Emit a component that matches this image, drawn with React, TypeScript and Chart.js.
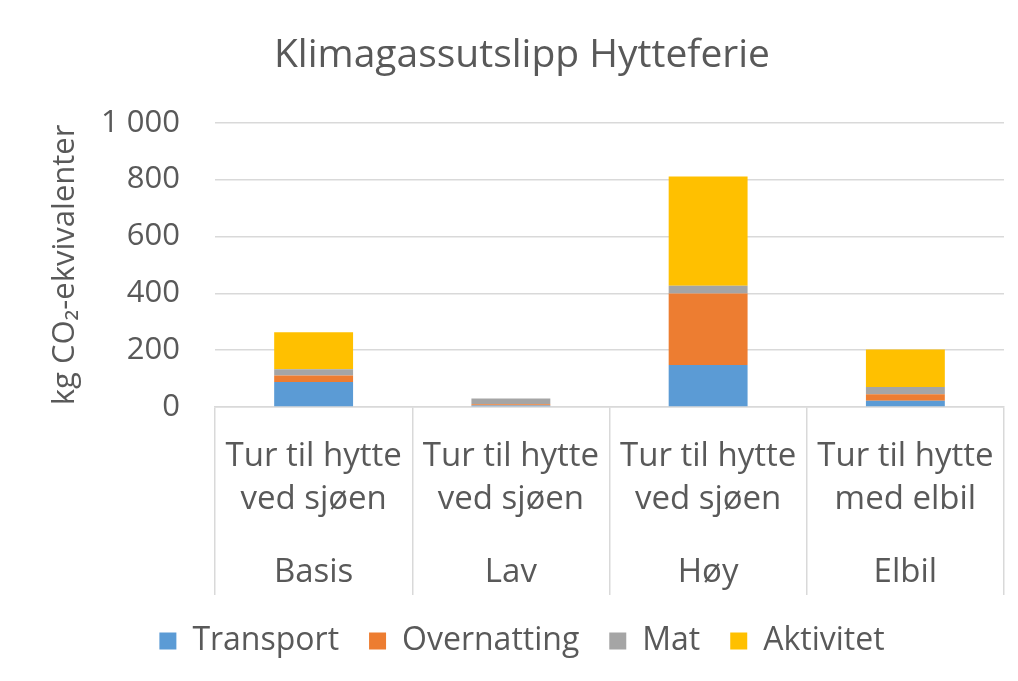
import React, { useEffect, useRef } from "react";
import { Chart, registerables } from "chart.js";

Chart.register(...registerables);

const groups = ["Basis", "Lav", "Høy", "Elbil"];
const subLabels = [
  ["Tur til hytte", "ved sjøen"],
  ["Tur til hytte", "ved sjøen"],
  ["Tur til hytte", "ved sjøen"],
  ["Tur til hytte", "med elbil"],
];
const transport = [88, 5, 148, 22];
const overnatting = [23, 5, 251, 23];
const mat = [22, 20, 28, 25];
const aktivitet = [130, 0, 384, 132];
const yTicks = [0, 200, 400, 600, 800, 1000];

const FONT = "'Open Sans', Lato, sans-serif";
const TEXT = "#595959";
const GRID = "#D9D9D9";

function fmt(v: number): string {
  const s = String(Math.round(v));
  return s.replace(/\B(?=(\d{3})+(?!\d))/g, " ");
}

const catLabelsPlugin = {
  id: "catLabels",
  afterDraw(chart: any) {
    const xs = chart.scales.x;
    const ctx = chart.ctx;
    ctx.save();
    ctx.fillStyle = TEXT;
    ctx.font = `33px ${FONT}`;
    ctx.textAlign = "center";
    ctx.textBaseline = "middle";
    groups.forEach((g, i) => {
      const x = xs.getPixelForValue(i);
      ctx.fillText(subLabels[i][0], x, xs.top + 50);
      ctx.fillText(subLabels[i][1], x, xs.top + 93);
      ctx.fillText(g, x, xs.top + 166);
    });
    ctx.restore();
  },
};

export default function App() {
  const ref = useRef<HTMLCanvasElement | null>(null);
  useEffect(() => {
    if (!ref.current) return;
    const chart = new Chart(ref.current, {
      type: "bar",
      data: {
        labels: groups,
        datasets: [
          { label: "Transport", data: transport, backgroundColor: "#5B9BD5" },
          { label: "Overnatting", data: overnatting, backgroundColor: "#ED7D31" },
          { label: "Mat", data: mat, backgroundColor: "#A5A5A5" },
          { label: "Aktivitet", data: aktivitet, backgroundColor: "#FFC000" },
        ],
      },
      options: {
        animation: false,
        responsive: false,
        maintainAspectRatio: false,
        datasets: { bar: { categoryPercentage: 1, barPercentage: 0.4 } },
        layout: { padding: { left: 40, right: 14, top: 0, bottom: 14 } },
        plugins: {
          title: {
            display: true,
            text: "Klimagassutslipp Hytteferie",
            color: TEXT,
            font: { family: FONT, size: 39, weight: "normal" },
            padding: { top: 32, bottom: 44 },
          },
          legend: {
            position: "bottom",
            labels: {
              color: TEXT,
              font: { family: FONT, size: 32 },
              boxWidth: 17,
              boxHeight: 17,
              padding: 30,
            },
          },
          tooltip: { enabled: false },
        },
        scales: {
          x: {
            stacked: true,
            offset: true,
            grid: {
              offset: true,
              drawOnChartArea: false,
              drawTicks: true,
              tickLength: 188,
              color: GRID,
              lineWidth: 1.5,
            },
            border: { display: true, color: GRID, width: 1.5 },
            ticks: { display: false },
          },
          y: {
            stacked: true,
            min: 0,
            max: 1000,
            afterBuildTicks: (s: any) => {
              s.ticks = yTicks.map((v) => ({ value: v }));
            },
            afterFit: (s: any) => {
              s.width = 175;
            },
            grid: { color: GRID, lineWidth: 1.5, drawTicks: false },
            border: { display: false },
            ticks: {
              color: TEXT,
              font: { family: FONT, size: 31 },
              padding: 35,
              callback: (v: any) => fmt(Number(v)),
            },
            title: {
              display: true,
              text: "kg CO₂-ekvivalenter",
              color: TEXT,
              font: { family: FONT, size: 31 },
              padding: { top: 7, bottom: 0 },
            },
          },
        },
      },
      plugins: [catLabelsPlugin],
    });
    return () => chart.destroy();
  }, []);
  return (
    <div style={{ position: "fixed", left: 0, top: 0, width: 1018, height: 681, background: "#fff" }}>
      <canvas ref={ref} width={1018} height={681} style={{ display: "block" }} />
    </div>
  );
}
